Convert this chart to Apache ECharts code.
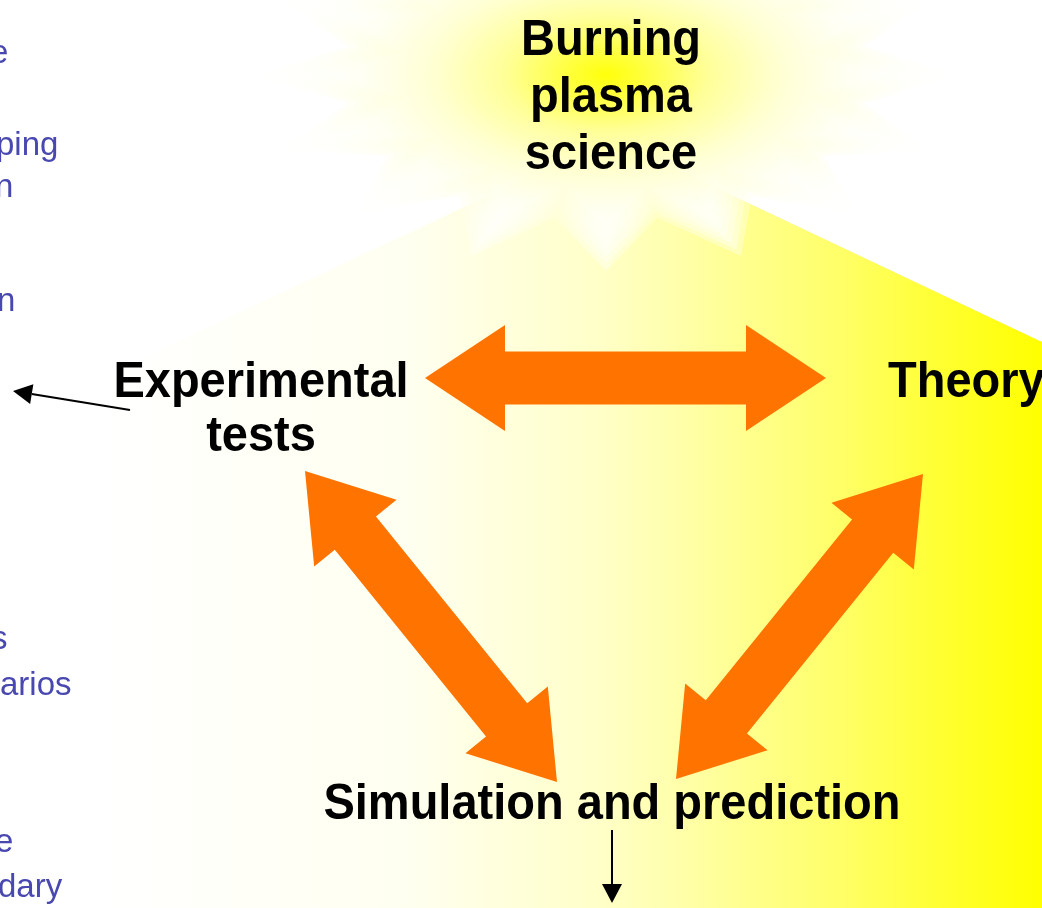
<!DOCTYPE html>
<html>
<head>
<meta charset="utf-8">
<script src="https://cdn.jsdelivr.net/npm/echarts@6/dist/echarts.min.js"></script>
<style>
  html, body { margin: 0; padding: 0; background: #ffffff; }
  #main { width: 1042px; height: 908px; }
</style>
</head>
<body>
<div id="main"></div>
<script>
// pentagon backdrop (x, y in page units)
var plateX = [611, 1042, 1042, 100, 100];
var plateY = [138, 342, 908, 908, 378];

// sunburst centre
var sunCenter = [[606, 75]];

// node captions
var nodeText = ['Burning\nplasma\nscience', 'Experimental\ntests', 'Theory', 'Simulation and prediction'];
var nodeX = [611, 261, 888, 612];
var nodeY = [98, 410, 383, 805];
var nodeAlign = ['center', 'center', 'left', 'center'];

// orange two-way links: [x1, y1, x2, y2]
var links = [
    [425, 378, 826, 378],
    [305, 471, 557, 782],
    [923, 474, 676, 779]
];

// thin black pointers: [fromX, fromY, toX, toY]
var pointers = [
    [130, 410, 13, 391],
    [612, 830, 612, 903]
];

// clipped side notes
var noteText = ['e', 'ping', 'n', 'n', 's', 'arios', 'e', 'dary'];
var noteX = [-10, -4, -5, -3, -9, 0, -5, -2];
var noteY = [54, 146, 188, 302, 640, 686, 843, 888];

var chart = echarts.init(document.getElementById('main'), null, { renderer: 'canvas' });

function sub(a, b) { return [a[0] - b[0], a[1] - b[1]]; }

var plateSeries = {
    type: 'custom',
    coordinateSystem: 'cartesian2d',
    clip: false,
    silent: true,
    z: 1,
    data: [[plateX[0], plateY[0]]],
    renderItem: function (params, api) {
        var pts = [];
        for (var i = 0; i < plateX.length; i++) pts.push(api.coord([plateX[i], plateY[i]]));
        return {
            type: 'polygon',
            shape: { points: pts },
            style: {
                fill: new echarts.graphic.LinearGradient(0, 0, 1, 0, [
                    { offset: 0, color: '#ffffff' },
                    { offset: 0.33, color: '#fffff0' },
                    { offset: 0.53, color: '#ffffc8' },
                    { offset: 0.6, color: '#ffffb0' },
                    { offset: 0.79, color: '#ffff66' },
                    { offset: 0.9, color: '#ffff2e' },
                    { offset: 1, color: '#ffff00' }
                ])
            }
        };
    }
};

// soft star: several stacked translucent copies
var sunSeries = {
    type: 'custom',
    coordinateSystem: 'cartesian2d',
    clip: false,
    silent: true,
    z: 2,
    data: sunCenter,
    renderItem: function (params, api) {
        var c = api.coord([api.value(0), api.value(1)]);
        var pts = [];
        var spikes = 16, outer = 175, inner = 130;
        for (var i = 0; i < spikes * 2; i++) {
            var a = Math.PI * i / spikes;
            var r = i % 2 === 0 ? outer : inner;
            pts.push([r * Math.sin(a), r * Math.cos(a)]);
        }
        var scales = [1.12, 1.08, 1.04, 1.0, 0.96, 0.92, 0.88];
        var kids = scales.map(function (s) {
            return {
                type: 'polygon',
                x: c[0],
                y: c[1],
                scaleX: 1.8 * s,
                scaleY: s,
                shape: { points: pts },
                style: {
                    opacity: 0.36,
                    fill: new echarts.graphic.RadialGradient(0.5, 0.5, 0.5, [
                        { offset: 0, color: '#ffff00' },
                        { offset: 0.12, color: '#ffff30' },
                        { offset: 0.35, color: '#ffff96' },
                        { offset: 0.6, color: '#ffffd4' },
                        { offset: 0.85, color: '#fffff6' },
                        { offset: 1, color: '#ffffff' }
                    ])
                }
            };
        });
        return { type: 'group', children: kids };
    }
};

var linkSeries = {
    type: 'custom',
    coordinateSystem: 'cartesian2d',
    clip: false,
    silent: true,
    z: 3,
    data: links,
    renderItem: function (params, api) {
        var p1 = api.coord([api.value(0), api.value(1)]);
        var p2 = api.coord([api.value(2), api.value(3)]);
        var d = sub(p2, p1);
        var len = Math.sqrt(d[0] * d[0] + d[1] * d[1]);
        var u = [d[0] / len, d[1] / len];
        var n = [-u[1], u[0]];
        var L = 80, H = 53, W = 26.5;
        function at(p, s, t) { return [p[0] + u[0] * s + n[0] * t, p[1] + u[1] * s + n[1] * t]; }
        var pts = [
            p1,
            at(p1, L, H), at(p1, L, W), at(p2, -L, W), at(p2, -L, H),
            p2,
            at(p2, -L, -H), at(p2, -L, -W), at(p1, L, -W), at(p1, L, -H)
        ];
        return { type: 'polygon', shape: { points: pts }, style: { fill: '#ff7400' } };
    }
};

var pointerSeries = {
    type: 'custom',
    coordinateSystem: 'cartesian2d',
    clip: false,
    silent: true,
    z: 4,
    data: pointers,
    renderItem: function (params, api) {
        var p1 = api.coord([api.value(0), api.value(1)]);
        var p2 = api.coord([api.value(2), api.value(3)]);
        var d = sub(p2, p1);
        var len = Math.sqrt(d[0] * d[0] + d[1] * d[1]);
        var u = [d[0] / len, d[1] / len];
        var n = [-u[1], u[0]];
        var L = 19, H = 10;
        var base = [p2[0] - u[0] * L, p2[1] - u[1] * L];
        return {
            type: 'group',
            children: [
                { type: 'line', shape: { x1: p1[0], y1: p1[1], x2: base[0], y2: base[1] }, style: { stroke: '#000', lineWidth: 2 } },
                { type: 'polygon', shape: { points: [p2, [base[0] + n[0] * H, base[1] + n[1] * H], [base[0] - n[0] * H, base[1] - n[1] * H]] }, style: { fill: '#000' } }
            ]
        };
    }
};

var nodeSeries = {
    type: 'custom',
    coordinateSystem: 'cartesian2d',
    clip: false,
    silent: true,
    z: 5,
    data: nodeX.map(function (x, i) { return [x, nodeY[i]]; }),
    renderItem: function (params, api) {
        var i = params.dataIndex;
        var c = api.coord([api.value(0), api.value(1)]);
        return {
            type: 'text',
            x: c[0],
            y: c[1],
            scaleY: 1.07,
            style: {
                x: 0, y: 0,
                text: nodeText[i],
                fill: '#000000',
                font: 'bold 47px "Liberation Sans", Arial, sans-serif',
                lineHeight: i === 0 ? 53 : 51,
                align: nodeAlign[i],
                verticalAlign: 'middle'
            }
        };
    }
};

var noteSeries = {
    type: 'custom',
    coordinateSystem: 'cartesian2d',
    clip: false,
    silent: true,
    z: 5,
    data: noteX.map(function (x, i) { return [x, noteY[i]]; }),
    renderItem: function (params, api) {
        var i = params.dataIndex;
        var c = api.coord([api.value(0), api.value(1)]);
        return {
            type: 'text',
            x: c[0],
            y: c[1],
            style: {
                x: 0, y: 0,
                text: noteText[i],
                fill: '#4848b0',
                font: '33px "Liberation Sans", Arial, sans-serif',
                align: 'left',
                verticalAlign: 'middle'
            }
        };
    }
};

var option = {
    backgroundColor: '#ffffff',
    animation: false,
    grid: { left: 0, right: 0, top: 0, bottom: 0 },
    xAxis: { type: 'value', min: 0, max: 1042, show: false },
    yAxis: { type: 'value', min: 0, max: 908, inverse: true, show: false },
    series: [plateSeries, sunSeries, linkSeries, pointerSeries, nodeSeries, noteSeries]
};

chart.setOption(option);
window.addEventListener('resize', chart.resize);
</script>
</body>
</html>
